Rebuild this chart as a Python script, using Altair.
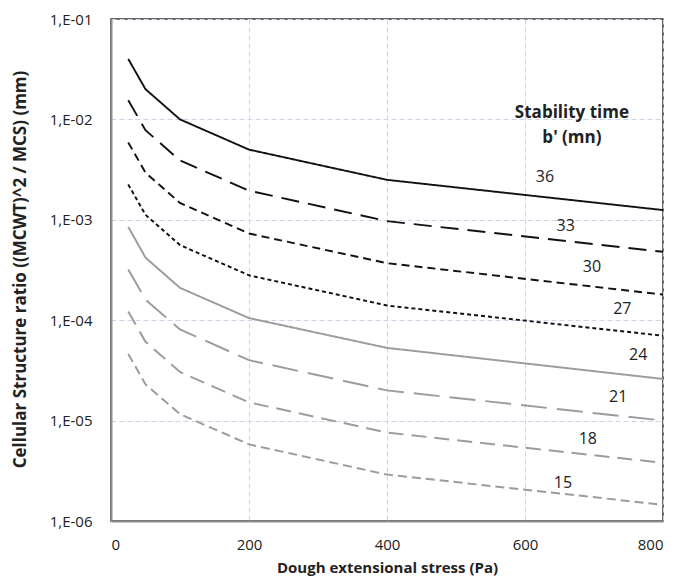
import altair as alt
import pandas as pd

stress = [25, 50, 100, 200, 400, 800]
series_names = ["36", "33", "30", "27", "24", "21", "18", "15"]
s36 = [4.0e-2, 2.0e-2, 1.0e-2, 5.0e-3, 2.5e-3, 1.25e-3]
s33 = [1.55e-2, 7.8e-3, 3.9e-3, 1.95e-3, 9.7e-4, 4.8e-4]
s30 = [5.9e-3, 2.95e-3, 1.47e-3, 7.3e-4, 3.7e-4, 1.8e-4]
s27 = [2.25e-3, 1.12e-3, 5.6e-4, 2.8e-4, 1.4e-4, 7.0e-5]
s24 = [8.5e-4, 4.2e-4, 2.1e-4, 1.05e-4, 5.3e-5, 2.6e-5]
s21 = [3.2e-4, 1.6e-4, 8.1e-5, 4.0e-5, 2.0e-5, 1.0e-5]
s18 = [1.22e-4, 6.1e-5, 3.05e-5, 1.52e-5, 7.6e-6, 3.8e-6]
s15 = [4.6e-5, 2.3e-5, 1.16e-5, 5.8e-6, 2.9e-6, 1.45e-6]
all_series = [s36, s33, s30, s27, s24, s21, s18, s15]

label_x = [629, 659, 697, 741, 764, 735, 691, 655]
label_y = [2.67e-3, 8.7e-4, 3.4e-4, 1.29e-4, 4.5e-5, 1.7e-5, 6.6e-6, 2.4e-6]

legend_title = ["Stability time", "b' (mn)"]
legend_title_x = [668, 668]
legend_title_y = [1.15e-2, 6.5e-3]

x_ticks = [0, 200, 400, 600, 800]
y_ticks = [1e-6, 1e-5, 1e-4, 1e-3, 1e-2, 1e-1]

rows = []
for name, vals in zip(series_names, all_series):
    for xv, yv in zip(stress, vals):
        rows.append({"series": name, "stress": xv, "ratio": yv})
df = pd.DataFrame(rows)

lab_df = pd.DataFrame({"lab": series_names, "lx": label_x, "ly": label_y})
tit_df = pd.DataFrame({"t": legend_title, "tx": legend_title_x, "ty": legend_title_y})

black = "#111111"
gray = "#9c9c9c"
colors = [black, black, black, black, gray, gray, gray, gray]
dashes = [[1, 0], [18, 9], [8, 5], [4, 3], [1, 0], [26, 10], [15, 8], [9, 5]]
widths = [1.9, 2.0, 2.0, 2.0, 3.0, 3.0, 3.0, 3.0]

xscale = alt.Scale(domain=[0, 800], nice=False, zero=False)
yscale = alt.Scale(type="log", domain=[1e-6, 1e-1], nice=False)

lines = alt.Chart(df).mark_line(clip=True).encode(
    x=alt.X("stress:Q", scale=xscale,
            axis=alt.Axis(values=x_ticks, title="Dough extensional stress (Pa)",
                          labelPadding=16, titleX=276, titleY=46,
                          titleBaseline="middle", titleAlign="center",
                          titleFontSize=15)),
    y=alt.Y("ratio:Q", scale=yscale,
            axis=alt.Axis(values=y_ticks,
                          labelExpr="'1,E-0' + format(-log(datum.value)/LN10, '.0f')",
                          title="Cellular Structure ratio ((MCWT)^2 / MCS)  (mm)",
                          labelPadding=19, titleX=-91, titleY=250, titleAngle=270,
                          titleAlign="center", titleBaseline="middle",
                          titleFontSize=17)),
    color=alt.Color("series:N", scale=alt.Scale(domain=series_names, range=colors), legend=None),
    strokeDash=alt.StrokeDash("series:N", scale=alt.Scale(domain=series_names, range=dashes), legend=None),
    strokeWidth=alt.StrokeWidth("series:N", scale=alt.Scale(domain=series_names, range=widths), legend=None),
)

labels = alt.Chart(lab_df).mark_text(font="Open Sans", fontSize=16, color="#222222",
                                     align="center", baseline="middle").encode(
    x=alt.X("lx:Q", scale=xscale),
    y=alt.Y("ly:Q", scale=yscale),
    text="lab:N",
)

titles = alt.Chart(tit_df).mark_text(font="Open Sans", fontSize=17, fontWeight="bold",
                                     color="#222222", align="center", baseline="middle").encode(
    x=alt.X("tx:Q", scale=xscale),
    y=alt.Y("ty:Q", scale=yscale),
    text="t:N",
)

chart = alt.layer(lines, labels, titles).properties(
    width=552, height=502,
    padding={"left": 103, "top": 11, "right": 7, "bottom": 58},
    autosize=alt.AutoSizeParams(type="none"),
).configure_view(
    stroke="#333333", strokeWidth=1.5
).configure_axis(
    domainColor="#8c8c8c", domainWidth=2,
    grid=True, gridColor="#c9d6ea", gridDash=[5, 3], gridWidth=1,
    ticks=False, tickSize=0,
    labelFont="Open Sans", labelFontSize=15, labelColor="#222222",
    titleFont="Open Sans", titleFontWeight="bold", titleColor="#222222",
)

chart.save("out.html", embed_options={"renderer": "svg", "actions": False})
